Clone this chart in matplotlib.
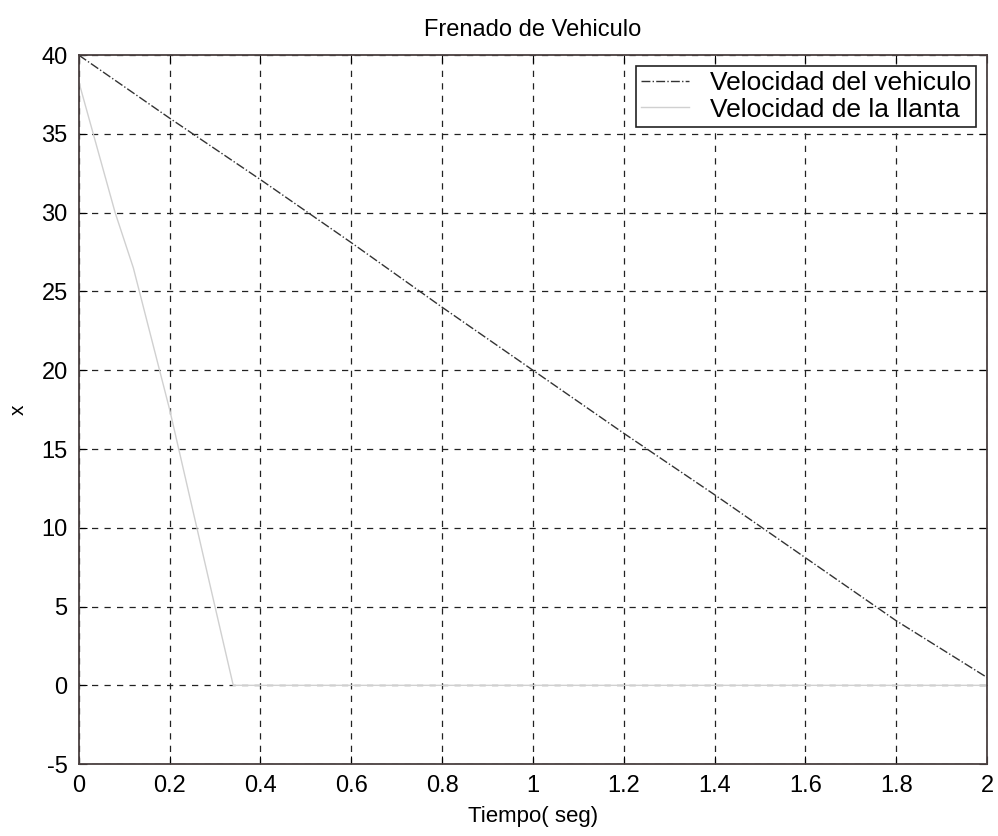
import matplotlib
matplotlib.use("Agg")
import matplotlib.pyplot as plt

# vehicle speed (dash-dot, dark)
t_veh = [0, 0.2, 0.4, 0.6, 0.8, 1.0, 1.2, 1.4, 1.6, 1.8, 2.0]
v_veh = [40, 36.0, 32.1, 28.1, 24.0, 20.0, 16.0, 12.1, 8.1, 4.1, 0.5]

# tire speed (faint gray)
t_tire = [0, 0.08, 0.12, 0.2, 0.295, 0.34, 1.0, 2.0]
v_tire = [38.3, 30, 26.5, 17.5, 5.6, 0, 0, 0]

plt.rcParams['font.family'] = ['Liberation Sans', 'DejaVu Sans']
plt.rcParams['axes.unicode_minus'] = False

fig = plt.figure(figsize=(9.98, 8.36), dpi=100)
ax = fig.add_axes([0.079, 0.086, 0.91, 0.848])

ax.plot(t_veh, v_veh, linestyle='-.', color='#333333', lw=1.0,
        label='Velocidad del vehiculo')
ax.plot(t_tire, v_tire, linestyle='-', color='#d0d0d0', lw=1.0,
        label='Velocidad de la llanta')

ax.set_xlim(0, 2)
ax.set_ylim(-5, 40)
ax.set_xticks([0, 0.2, 0.4, 0.6, 0.8, 1, 1.2, 1.4, 1.6, 1.8, 2])
ax.set_xticklabels(['0', '0.2', '0.4', '0.6', '0.8', '1', '1.2', '1.4', '1.6', '1.8', '2'])
ax.set_yticks(range(-5, 41, 5))

ax.grid(True, color='#222222', linestyle=(0, (5, 5)), lw=0.9)
ax.tick_params(direction='in', top=True, right=True, labelsize=17, length=6, pad=8)
for s in ax.spines.values():
    s.set_color('#4a4040')
    s.set_linewidth(1.3)

ax.set_title('Frenado de Vehiculo', fontsize=17, pad=14)
ax.set_xlabel('Tiempo( seg)', fontsize=16, labelpad=6)
ax.set_ylabel('x', fontsize=15, labelpad=10)

leg = ax.legend(loc='upper right', fontsize=19, frameon=True, fancybox=False,
                borderaxespad=0.4, handlelength=1.8, handletextpad=0.8,
                borderpad=0.2, labelspacing=0.1)
leg.get_frame().set_edgecolor('#222222')
leg.get_frame().set_linewidth(1.2)
leg.get_frame().set_alpha(1)

fig.savefig('out.png', dpi=100)
